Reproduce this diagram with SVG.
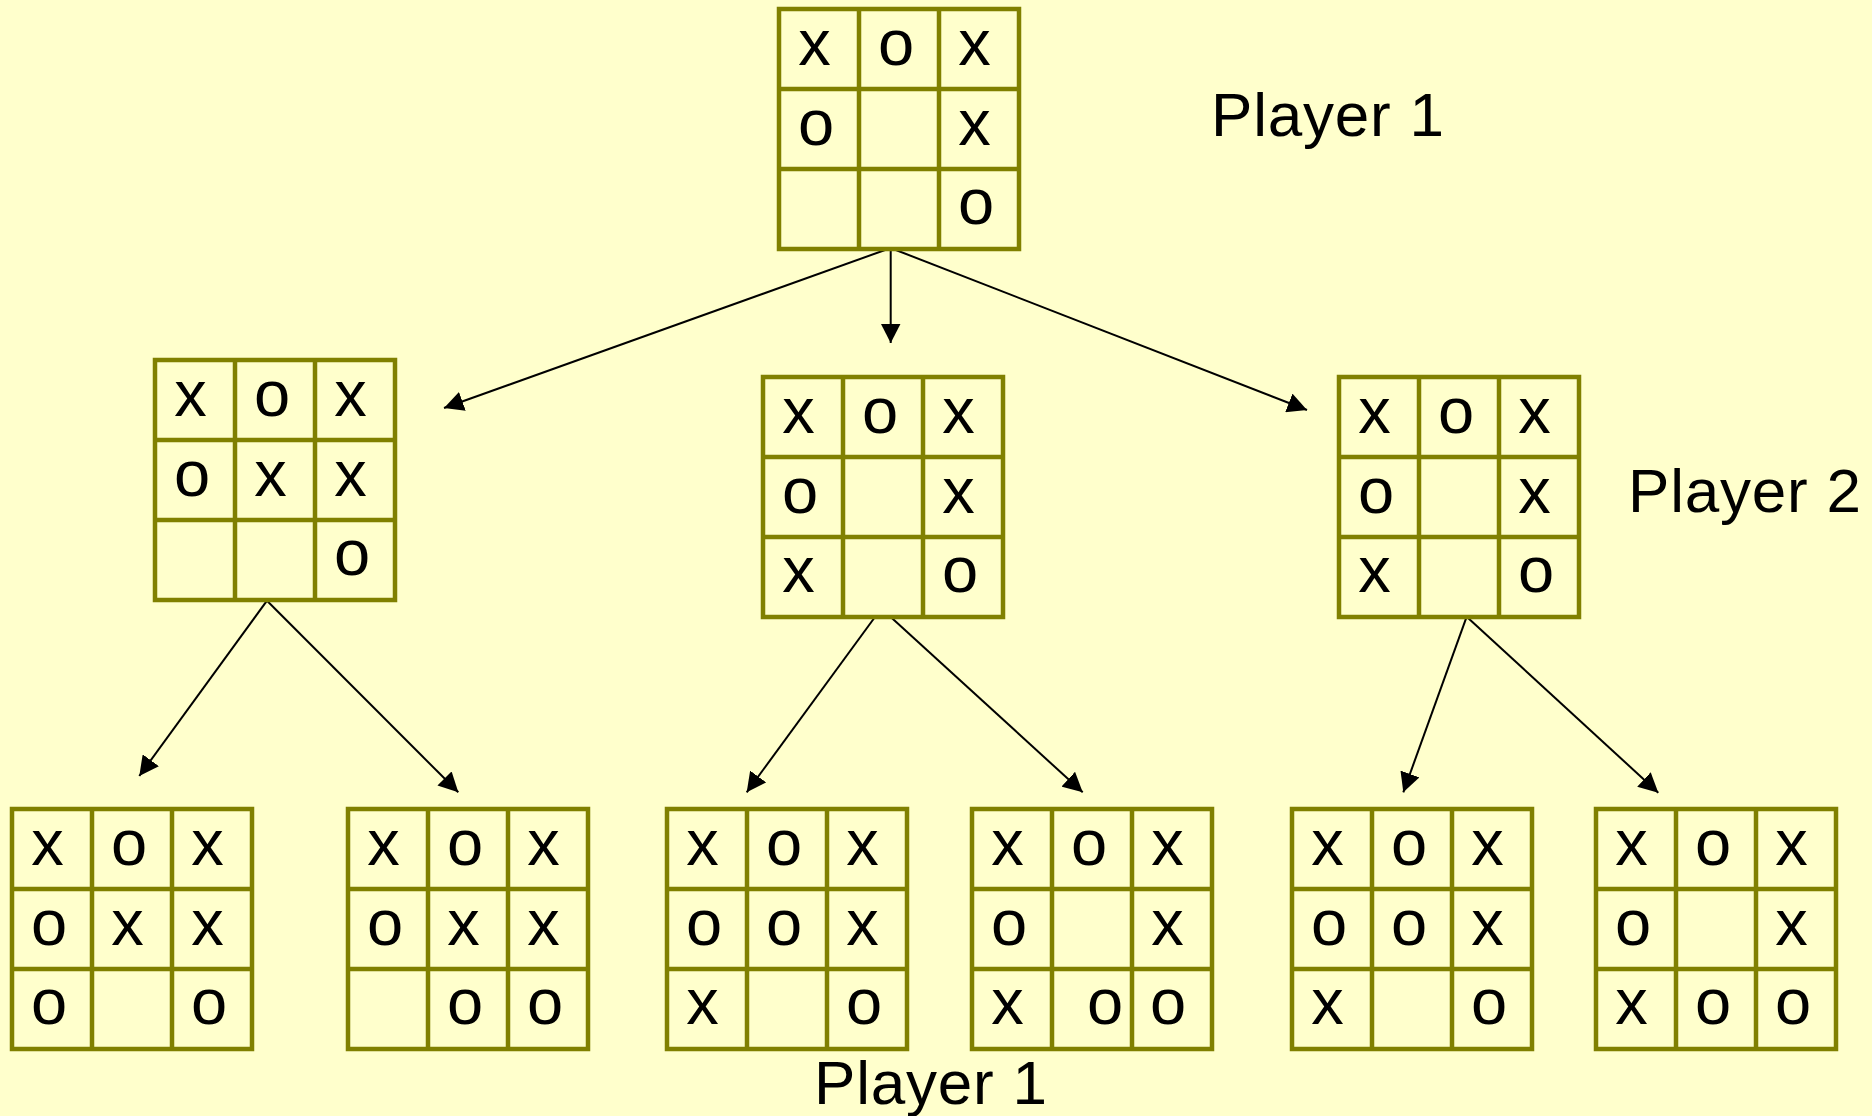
<svg xmlns="http://www.w3.org/2000/svg" width="1872" height="1116" viewBox="0 0 1872 1116">
<style>
.bd{fill:#FFFFCC;stroke:#808000;stroke-width:4.5}
.gl{stroke:#808000;stroke-width:4.5}
.m{font-family:"Liberation Sans",Arial,sans-serif;font-size:65px;fill:#000;text-anchor:middle}
.lbl{font-family:"Liberation Sans",Arial,sans-serif;font-size:62px;fill:#000;letter-spacing:0.8px}
.ar{stroke:#000;stroke-width:2;fill:none;marker-end:url(#ah)}
</style>
<defs>
<marker id="ah" markerUnits="userSpaceOnUse" markerWidth="20" markerHeight="20" refX="19.5" refY="10" orient="auto">
<path d="M0,0 L19.5,10 L0,20 z" fill="#000"/>
</marker>
<g id="grid">
<rect class="bd" x="0" y="0" width="240" height="240"/>
<line class="gl" x1="80" y1="0" x2="80" y2="240"/>
<line class="gl" x1="160" y1="0" x2="160" y2="240"/>
<line class="gl" x1="0" y1="80" x2="240" y2="80"/>
<line class="gl" x1="0" y1="160" x2="240" y2="160"/>
</g>
</defs>
<rect x="0" y="0" width="1872" height="1116" fill="#FFFFCC"/>

<g id="connectors">
<line class="ar" x1="890.7" y1="248" x2="444" y2="408"/>
<line class="ar" x1="890.7" y1="248" x2="890.7" y2="343"/>
<line class="ar" x1="890.7" y1="248" x2="1307" y2="410"/>
<line class="ar" x1="267" y1="600.7" x2="139.3" y2="776"/>
<line class="ar" x1="267" y1="600.7" x2="458.3" y2="792.3"/>
<line class="ar" x1="875" y1="617" x2="746.7" y2="792.3"/>
<line class="ar" x1="890.7" y1="617" x2="1082.7" y2="792.3"/>
<line class="ar" x1="1466.7" y1="616.7" x2="1403.3" y2="792.3"/>
<line class="ar" x1="1466.7" y1="616.7" x2="1658.3" y2="792.7"/>
</g>

<g id="root" transform="translate(779,9)">
<use href="#grid"/>
<text class="m" x="35.5" y="56">x</text><text class="m" x="117" y="56">o</text><text class="m" x="195.5" y="56">x</text>
<text class="m" x="37" y="135.5">o</text><text class="m" x="195.5" y="135.5">x</text>
<text class="m" x="197" y="215">o</text>
</g>

<g id="m1" transform="translate(155,360)">
<use href="#grid"/>
<text class="m" x="35.5" y="56">x</text><text class="m" x="117" y="56">o</text><text class="m" x="195.5" y="56">x</text>
<text class="m" x="37" y="135.5">o</text><text class="m" x="115.5" y="135.5">x</text><text class="m" x="195.5" y="135.5">x</text>
<text class="m" x="197" y="215">o</text>
</g>

<g id="m2" transform="translate(763,377)">
<use href="#grid"/>
<text class="m" x="35.5" y="56">x</text><text class="m" x="117" y="56">o</text><text class="m" x="195.5" y="56">x</text>
<text class="m" x="37" y="135.5">o</text><text class="m" x="195.5" y="135.5">x</text>
<text class="m" x="35.5" y="215">x</text><text class="m" x="197" y="215">o</text>
</g>

<g id="m3" transform="translate(1339,377)">
<use href="#grid"/>
<text class="m" x="35.5" y="56">x</text><text class="m" x="117" y="56">o</text><text class="m" x="195.5" y="56">x</text>
<text class="m" x="37" y="135.5">o</text><text class="m" x="195.5" y="135.5">x</text>
<text class="m" x="35.5" y="215">x</text><text class="m" x="197" y="215">o</text>
</g>

<g id="b1" transform="translate(12,809)">
<use href="#grid"/>
<text class="m" x="35.5" y="56">x</text><text class="m" x="117" y="56">o</text><text class="m" x="195.5" y="56">x</text>
<text class="m" x="37" y="135.5">o</text><text class="m" x="115.5" y="135.5">x</text><text class="m" x="195.5" y="135.5">x</text>
<text class="m" x="37" y="215">o</text><text class="m" x="197" y="215">o</text>
</g>

<g id="b2" transform="translate(348,809)">
<use href="#grid"/>
<text class="m" x="35.5" y="56">x</text><text class="m" x="117" y="56">o</text><text class="m" x="195.5" y="56">x</text>
<text class="m" x="37" y="135.5">o</text><text class="m" x="115.5" y="135.5">x</text><text class="m" x="195.5" y="135.5">x</text>
<text class="m" x="117" y="215">o</text><text class="m" x="197" y="215">o</text>
</g>

<g id="b3" transform="translate(667,809)">
<use href="#grid"/>
<text class="m" x="35.5" y="56">x</text><text class="m" x="117" y="56">o</text><text class="m" x="195.5" y="56">x</text>
<text class="m" x="37" y="135.5">o</text><text class="m" x="117" y="135.5">o</text><text class="m" x="195.5" y="135.5">x</text>
<text class="m" x="35.5" y="215">x</text><text class="m" x="197" y="215">o</text>
</g>

<g id="b4" transform="translate(972,809)">
<use href="#grid"/>
<text class="m" x="35.5" y="56">x</text><text class="m" x="117" y="56">o</text><text class="m" x="195.5" y="56">x</text>
<text class="m" x="37" y="135.5">o</text><text class="m" x="195.5" y="135.5">x</text>
<text class="m" x="35.5" y="215">x</text><text class="m" x="133" y="215">o</text><text class="m" x="196" y="215">o</text>
</g>

<g id="b5" transform="translate(1292,809)">
<use href="#grid"/>
<text class="m" x="35.5" y="56">x</text><text class="m" x="117" y="56">o</text><text class="m" x="195.5" y="56">x</text>
<text class="m" x="37" y="135.5">o</text><text class="m" x="117" y="135.5">o</text><text class="m" x="195.5" y="135.5">x</text>
<text class="m" x="35.5" y="215">x</text><text class="m" x="197" y="215">o</text>
</g>

<g id="b6" transform="translate(1596,809)">
<use href="#grid"/>
<text class="m" x="35.5" y="56">x</text><text class="m" x="117" y="56">o</text><text class="m" x="195.5" y="56">x</text>
<text class="m" x="37" y="135.5">o</text><text class="m" x="195.5" y="135.5">x</text>
<text class="m" x="35.5" y="215">x</text><text class="m" x="117" y="215">o</text><text class="m" x="197" y="215">o</text>
</g>

<g id="labels">
<text class="lbl" x="1211" y="136">Player 1</text>
<text class="lbl" x="1628" y="512">Player 2</text>
<text class="lbl" x="814" y="1104">Player 1</text>
</g>
</svg>
